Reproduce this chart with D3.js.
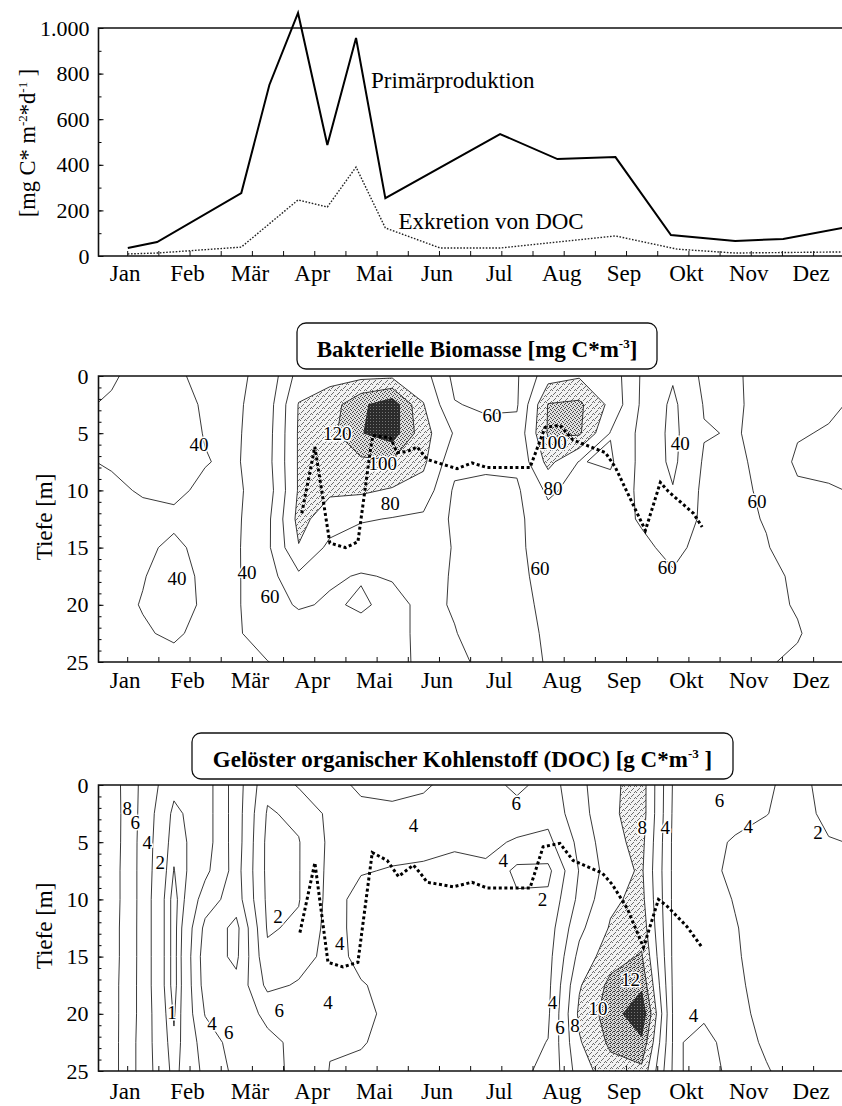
<!DOCTYPE html>
<html>
<head>
<meta charset="utf-8">
<script src="https://cdn.jsdelivr.net/npm/d3@7.9.0/dist/d3.min.js"></script>
<style>
  html, body { margin: 0; padding: 0; background: #fff; }
  svg { display: block; font-family: "Liberation Serif", "Times New Roman", serif; }
</style>
</head>
<body>
<svg id="chart" width="842" height="1106"></svg>
<script>
// ---- data ----
const monthNames = ['Jan', 'Feb', 'Mär', 'Apr', 'Mai', 'Jun', 'Jul', 'Aug', 'Sep', 'Okt', 'Nov', 'Dez'];

// primary production and DOC excretion, mg C m-2 d-1 (x in months from 1 Jan)
const ppMonths = [0.51, 0.98, 2.33, 2.78, 3.24, 3.71, 4.17, 4.64, 6.48, 7.40, 8.33, 9.22, 10.25, 11.02, 12.0];
const ppValues = [35, 61, 276, 750, 1066, 487, 956, 254, 535, 425, 434, 92, 66, 75, 125];
const excMonths = [0.51, 0.98, 2.33, 3.24, 3.71, 4.17, 4.64, 5.52, 6.48, 8.33, 9.32, 10.25, 12.0];
const excValues = [9, 13, 39, 246, 215, 390, 123, 35, 35, 88, 30, 13, 18];

const topTicks = [0, 200, 400, 600, 800, 1000];
const depthTicks = [0, 5, 10, 15, 20, 25];

// depth profiles: one column per half month (centred at 0.25, 0.75, ... months),
// values at 0, 2.5, 5 ... 25 m
const profileDepths = [0, 2.5, 5, 7.5, 10, 12.5, 15, 17.5, 20, 22.5, 25];

const bioProfiles = [
  [39, 41, 41, 41, 38, 37, 37, 37, 37, 37, 37],
  [43, 44, 44, 44, 41, 37, 38, 39.5, 40.5, 39, 37],
  [42, 45, 45, 44, 42, 38, 42, 44, 44, 41.5, 37],
  [37, 38.5, 39.5, 40.5, 38, 37, 37, 38, 38.5, 37, 37],
  [37, 37, 37.5, 38, 37, 37, 37.5, 38, 38, 37.5, 37],
  [45, 50, 52, 53, 50, 55, 56, 52, 52, 50, 39.5],
  [88, 101, 102, 102, 102, 106, 99, 76, 62, 50, 48],
  [94, 110, 114, 112, 103, 90, 75, 62, 58, 52, 49],
  [95, 136, 139, 116, 103, 82, 68, 59, 62, 55, 52],
  [96, 152, 150, 118, 98, 79, 68, 61, 56, 56, 57],
  [88, 101, 108, 104, 92, 76, 68, 66, 63, 63, 62],
  [55, 61, 78, 66, 57, 56, 59, 58.5, 59, 60.5, 63],
  [52, 57, 66, 64, 55, 52, 52, 52, 53, 55, 57],
  [58, 58, 66, 64, 57, 56, 56, 56, 55, 55, 55],
  [92, 121, 122, 106, 84, 72, 70, 66, 64, 62, 61],
  [98, 124, 123, 79, 72, 70, 68, 67, 66, 64, 62],
  [92, 95, 79, 83, 72, 68, 66, 64, 64, 63, 62],
  [58, 57, 55, 54, 56, 58, 64, 66, 65, 64, 63],
  [42, 36, 35, 36, 41, 46, 55, 62, 64, 64, 63],
  [64, 61, 59, 62, 64, 64, 66, 66, 65, 64, 63],
  [62, 62, 61, 62, 64, 64, 66, 66, 66, 65, 64],
  [54, 55, 56, 57, 57, 59, 61, 63, 63, 62, 61],
  [50, 48, 42, 36, 44, 50, 52, 58, 59, 61, 58],
  [50, 44, 38, 37, 41, 46, 50, 52, 54, 54, 55]
];
const bioLevels = [40, 60, 80, 100, 120, 140];
const bioLabels = [
  { m: 1.65, d: 6.0, t: '40' }, { m: 1.30, d: 17.7, t: '40' }, { m: 2.42, d: 17.2, t: '40' },
  { m: 2.79, d: 19.3, t: '60' }, { m: 3.87, d: 5.0, t: '120' }, { m: 4.60, d: 7.6, t: '100' },
  { m: 4.72, d: 11.1, t: '80' }, { m: 6.35, d: 3.4, t: '60' }, { m: 7.32, d: 5.8, t: '100' },
  { m: 7.33, d: 9.8, t: '80' }, { m: 9.37, d: 5.9, t: '40' }, { m: 7.12, d: 16.8, t: '60' },
  { m: 9.16, d: 16.7, t: '60' }, { m: 10.60, d: 11.0, t: '60' }
];
const bioLineMonths = [3.30, 3.51, 3.75, 4.00, 4.20, 4.40, 4.44, 4.72, 4.83, 4.99, 5.15, 5.31, 5.79, 6.03, 6.27, 6.96, 7.20, 7.44, 7.65, 8.17, 8.33, 8.81, 9.05, 9.18, 9.58, 9.72];
const bioLineDepths = [12.0, 6.2, 14.6, 15.0, 14.5, 6.5, 5.2, 5.4, 6.7, 6.6, 6.2, 7.3, 8.1, 7.6, 8.0, 8.0, 4.5, 4.3, 5.6, 6.7, 8.0, 13.5, 9.3, 10.1, 12.0, 13.2];

const docProfiles = [
  [9.0, 9.1, 9.1, 9.0, 9.0, 8.9, 8.9, 8.8, 8.8, 8.8, 8.8],
  [5.5, 5.4, 5.3, 5.3, 5.3, 5.3, 5.3, 5.3, 5.3, 5.2, 5.2],
  [2.5, 1.6, 1.3, 0.95, 0.5, 0.5, 0.5, 0.5, 0.85, 1.2, 1.5],
  [3.0, 3.0, 3.0, 3.5, 5.0, 6.5, 7.0, 6.8, 6.1, 5.0, 4.5],
  [7.0, 7.0, 7.0, 6.8, 7.0, 8.6, 8.4, 7.5, 7.0, 6.8, 6.5],
  [2.5, 1.8, 1.5, 1.5, 1.6, 1.8, 2.4, 3.5, 5.6, 6.4, 6.6],
  [4.2, 2.4, 1.9, 1.9, 1.9, 2.3, 3.2, 4.2, 5.0, 5.6, 5.5],
  [4.4, 4.5, 4.4, 4.5, 4.6, 4.7, 4.6, 4.5, 4.3, 4.1, 3.95],
  [3.8, 4.3, 4.6, 4.1, 3.5, 3.4, 3.6, 4.1, 4.3, 4.1, 3.7],
  [3.6, 4.3, 4.5, 3.9, 3.3, 3.2, 3.3, 3.6, 3.7, 3.6, 3.5],
  [3.8, 4.5, 4.4, 3.8, 3.2, 3.1, 3.1, 3.2, 3.3, 3.3, 3.3],
  [4.5, 4.7, 4.2, 3.6, 3.2, 3.1, 3.1, 3.1, 3.2, 3.2, 3.3],
  [5.0, 4.8, 4.4, 3.7, 3.0, 2.9, 2.9, 3.0, 3.0, 3.1, 3.2],
  [6.6, 5.0, 3.8, 1.5, 2.3, 2.6, 2.9, 3.0, 3.2, 3.4, 3.8],
  [5.0, 4.6, 3.5, 1.5, 2.4, 3.0, 3.3, 3.5, 3.7, 4.05, 4.2],
  [7.5, 7.2, 6.5, 6.1, 6.5, 7.5, 8.6, 9.8, 10.4, 9.8, 9.0],
  [9.5, 9.6, 9.4, 9.0, 9.6, 10.2, 11.2, 12.5, 13.0, 12.4, 11.2],
  [11.0, 11.0, 10.6, 10.3, 10.6, 11.2, 12.2, 13.6, 15.5, 13.6, 11.5],
  [3.9, 3.8, 3.7, 3.7, 3.7, 3.7, 3.7, 3.8, 3.9, 3.9, 3.8],
  [3.7, 3.6, 3.7, 3.6, 3.6, 3.6, 3.6, 3.7, 3.9, 4.2, 4.4],
  [3.6, 3.7, 4.1, 4.3, 4.05, 3.95, 3.9, 3.85, 3.8, 3.7, 3.7],
  [3.8, 3.95, 4.6, 4.6, 4.5, 4.4, 4.4, 4.3, 4.2, 4.1, 3.95],
  [4.5, 4.6, 4.6, 4.5, 4.5, 4.5, 4.5, 4.4, 4.4, 4.3, 4.3],
  [3.4, 3.6, 4.1, 4.4, 4.5, 4.5, 4.5, 4.4, 4.4, 4.4, 4.4]
];
const docLevels = [1, 2, 4, 6, 8, 10, 12, 14];
const docLabels = [
  { m: 0.50, d: 2.0, t: '8' }, { m: 0.63, d: 3.3, t: '6' }, { m: 0.82, d: 5.0, t: '4' },
  { m: 1.03, d: 6.8, t: '2' }, { m: 1.22, d: 19.9, t: '1' }, { m: 1.86, d: 20.8, t: '4' },
  { m: 2.13, d: 21.6, t: '6' }, { m: 2.92, d: 11.5, t: '2' }, { m: 2.94, d: 19.7, t: '6' },
  { m: 3.91, d: 13.8, t: '4' }, { m: 3.72, d: 19.0, t: '4' }, { m: 5.09, d: 3.5, t: '4' },
  { m: 6.74, d: 1.6, t: '6' }, { m: 6.53, d: 6.6, t: '4' }, { m: 7.16, d: 10.0, t: '2' },
  { m: 7.32, d: 19.0, t: '4' }, { m: 7.44, d: 21.2, t: '6' }, { m: 7.68, d: 21.0, t: '8' },
  { m: 8.05, d: 19.5, t: '10' }, { m: 8.57, d: 17.0, t: '12' }, { m: 8.76, d: 3.7, t: '8' },
  { m: 9.13, d: 3.7, t: '4' }, { m: 10.0, d: 1.3, t: '6' }, { m: 10.46, d: 3.6, t: '4' },
  { m: 11.58, d: 4.1, t: '2' }, { m: 9.58, d: 20.1, t: '4' }
];
const docLineMonths = [3.27, 3.51, 3.72, 3.96, 4.20, 4.43, 4.67, 4.85, 5.09, 5.20, 5.31, 5.73, 6.03, 6.27, 6.96, 7.17, 7.44, 7.65, 8.12, 8.28, 8.52, 8.78, 9.02, 9.16, 9.48, 9.72];
const docLineDepths = [12.9, 6.8, 15.5, 15.9, 15.5, 5.9, 6.6, 8.0, 7.0, 7.7, 8.5, 8.9, 8.5, 9.0, 9.0, 5.4, 5.1, 6.6, 7.7, 8.7, 10.8, 14.2, 10.0, 10.6, 12.4, 14.2];

// ---- layout ----
const svg = d3.select('#chart');
const plotLeft = 98.5;
const plotRight = 844;
const x = d3.scaleLinear().domain([0, 12]).range([96, 844.3]);
const yTop = d3.scaleLinear().domain([0, 1000]).range([256, 28]);
const yBio = d3.scaleLinear().domain([0, 25]).range([376, 662]);
const yDoc = d3.scaleLinear().domain([0, 25]).range([785, 1071]);

const halfMonths = d3.range(1, 24).map((i) => i / 2);
const nCols = bioProfiles.length;
const nRows = profileDepths.length;

// stipple patterns
const defs = svg.append('defs');
function addStipple(id, size, bg, dotColor, dots) {
  const p = defs.append('pattern')
    .attr('id', id)
    .attr('width', size)
    .attr('height', size)
    .attr('patternUnits', 'userSpaceOnUse');
  p.append('rect').attr('width', size).attr('height', size).attr('fill', bg);
  dots.forEach(([dx, dy]) => {
    p.append('rect').attr('x', dx).attr('y', dy).attr('width', 1).attr('height', 1).attr('fill', dotColor);
  });
}
addStipple('st1', 6, '#f2f2f2', '#6a6a6a', [[0, 0], [3, 2], [1, 4], [5, 5], [4, 0], [2, 3]]);
addStipple('st2', 4, '#dedede', '#444', [[0, 0], [2, 1], [1, 3], [3, 2]]);
addStipple('st3', 4, '#d6d6d6', '#3a3a3a', [[0, 0], [2, 1], [1, 3], [3, 2], [2, 3]]);
addStipple('st4', 3, '#2b2b2b', '#777', [[1, 1]]);

function bottomTicks(g, y0) {
  g.append('g')
    .attr('transform', `translate(0,${y0})`)
    .call(d3.axisBottom(x).tickValues(halfMonths).tickSize(-5).tickFormat(''))
    .call((a) => a.select('.domain').remove())
    .selectAll('line').attr('stroke', '#111').attr('stroke-width', 1);
}

function monthLabels(g, yBase) {
  g.append('g')
    .selectAll('text')
    .data(monthNames)
    .join('text')
    .attr('x', (d, i) => x(i + 0.5) - 2)
    .attr('y', yBase)
    .attr('text-anchor', 'middle')
    .attr('font-size', 23)
    .text((d) => d);
}

function frame(g, yTopPx, yBotPx) {
  g.append('path')
    .attr('d', `M${plotRight},${yTopPx}H${plotLeft}V${yBotPx}H${plotRight}`)
    .attr('fill', 'none')
    .attr('stroke', '#111')
    .attr('stroke-width', 1.6);
}

// ---- top panel ----
const topPanel = svg.append('g');

topPanel.append('g')
  .attr('transform', `translate(${plotLeft},0)`)
  .call(d3.axisLeft(yTop).tickValues(d3.range(0, 1001, 100)).tickSize(-3).tickFormat(''))
  .call((a) => a.select('.domain').remove());
topPanel.append('g')
  .attr('transform', `translate(${plotLeft},0)`)
  .call(d3.axisLeft(yTop).tickValues(topTicks).tickSize(-5).tickPadding(9)
    .tickFormat((d) => (d === 1000 ? '1.000' : d)))
  .call((a) => a.select('.domain').remove())
  .call((a) => a.selectAll('text').attr('font-size', 22).attr('font-family', 'Liberation Serif').attr('fill', '#000'));

bottomTicks(topPanel, 256);
frame(topPanel, 28, 256);
monthLabels(topPanel, 281);

const ppLine = d3.line().x((d, i) => x(ppMonths[i])).y((d) => yTop(d));
topPanel.append('path')
  .attr('d', ppLine(ppValues))
  .attr('fill', 'none')
  .attr('stroke', '#000')
  .attr('stroke-width', 2)
  .attr('stroke-linejoin', 'miter');

const excLine = d3.line().x((d, i) => x(excMonths[i])).y((d) => yTop(d));
topPanel.append('path')
  .attr('d', excLine(excValues))
  .attr('fill', 'none')
  .attr('stroke', '#222')
  .attr('stroke-width', 1.4)
  .attr('stroke-dasharray', '1.6 1.6');

const topNotes = [
  { m: 4.41, v: 737, t: 'Primärproduktion' },
  { m: 4.85, v: 118, t: 'Exkretion von DOC' }
];
topPanel.selectAll('text.note')
  .data(topNotes)
  .join('text')
  .attr('class', 'note')
  .attr('x', (d) => x(d.m))
  .attr('y', (d) => yTop(d.v))
  .attr('font-size', 23)
  .text((d) => d.t);

const yTitle = topPanel.append('text')
  .attr('transform', 'translate(35,143) rotate(-90)')
  .attr('text-anchor', 'middle')
  .attr('font-size', 22.5);
yTitle.append('tspan').text('[mg C* m');
yTitle.append('tspan').attr('dy', -8).attr('font-size', 13).text('-2');
yTitle.append('tspan').attr('dy', 8).text('*d');
yTitle.append('tspan').attr('dy', -8).attr('font-size', 13).text('-1');
yTitle.append('tspan').attr('dy', 8).text(' ]');

// ---- contour panels ----
function titleBox(cx, yBox, w, parts) {
  const g = svg.append('g');
  g.append('rect')
    .attr('x', cx - w / 2)
    .attr('y', yBox)
    .attr('width', w)
    .attr('height', 46)
    .attr('rx', 9)
    .attr('fill', '#fff')
    .attr('stroke', '#111')
    .attr('stroke-width', 1.3);
  const t = g.append('text')
    .attr('x', cx)
    .attr('y', yBox + 34)
    .attr('text-anchor', 'middle')
    .attr('font-size', 23)
    .attr('font-weight', 'bold');
  t.append('tspan').text(parts[0]);
  t.append('tspan').attr('dy', -9).attr('font-size', 13).text('-3');
  t.append('tspan').attr('dy', 9).text(parts[1]);
}

function contourPanel(cfg) {
  const { profiles, levels, fills, yScale, labels, lineMonths, lineDepths, clipId, tiefeY } = cfg;
  const [y0, y1] = yScale.range();
  const g = svg.append('g');

  g.append('clipPath').attr('id', clipId)
    .append('rect')
    .attr('x', plotLeft)
    .attr('y', y0)
    .attr('width', plotRight - plotLeft)
    .attr('height', y1 - y0);

  const values = [];
  for (let r = 0; r < nRows; r++) {
    for (let j = 0; j < nCols; j++) values.push(profiles[j][r]);
  }
  const rowStep = profileDepths[1] - profileDepths[0];
  const proj = d3.geoTransform({
    point(gx, gy) {
      this.stream.point(x(gx * 0.5), yScale((gy - 0.5) * rowStep));
    }
  });
  const path = d3.geoPath(proj);
  const body = g.append('g').attr('clip-path', `url(#${clipId})`);

  fills.forEach(([level, pat]) => {
    const c = d3.contours().size([nCols, nRows]).thresholds([level])(values);
    body.append('path').attr('d', path(c[0])).attr('fill', `url(#${pat})`).attr('stroke', 'none');
  });

  const lines = d3.contours().size([nCols, nRows]).thresholds(levels)(values);
  body.selectAll('path.iso')
    .data(lines)
    .join('path')
    .attr('class', 'iso')
    .attr('d', path)
    .attr('fill', 'none')
    .attr('stroke', '#222')
    .attr('stroke-width', 0.9);

  body.selectAll('text.lab')
    .data(labels)
    .join('text')
    .attr('class', 'lab')
    .attr('x', (d) => x(d.m))
    .attr('y', (d) => yScale(d.d))
    .attr('dy', '0.35em')
    .attr('text-anchor', 'middle')
    .attr('font-size', 19)
    .attr('stroke', '#fff')
    .attr('stroke-width', 3)
    .attr('paint-order', 'stroke')
    .text((d) => d.t);

  const mixLine = d3.line().x((d) => x(d)).y((d, i) => yScale(lineDepths[i]));
  body.append('path')
    .attr('d', mixLine(lineMonths))
    .attr('fill', 'none')
    .attr('stroke', '#000')
    .attr('stroke-width', 3)
    .attr('stroke-dasharray', '3 2.6');

  // depth axis
  g.append('g')
    .attr('transform', `translate(${plotLeft},0)`)
    .call(d3.axisLeft(yScale).tickValues(d3.range(0, 26)).tickSize(-3).tickFormat(''))
    .call((a) => a.select('.domain').remove());
  g.append('g')
    .attr('transform', `translate(${plotLeft},0)`)
    .call(d3.axisLeft(yScale).tickValues(depthTicks).tickSize(-5).tickPadding(10))
    .call((a) => a.select('.domain').remove())
    .call((a) => a.selectAll('text').attr('font-size', 22).attr('font-family', 'Liberation Serif').attr('fill', '#000'));

  bottomTicks(g, y1);
  frame(g, y0, y1);

  g.append('text')
    .attr('transform', `translate(52,${tiefeY}) rotate(-90)`)
    .attr('text-anchor', 'middle')
    .attr('font-size', 23)
    .text('Tiefe [m]');
}

titleBox(477, 323, 360, ['Bakterielle Biomasse [mg C*m', ']']);
contourPanel({
  profiles: bioProfiles,
  levels: bioLevels,
  fills: [[100, 'st1'], [120, 'st2'], [140, 'st4']],
  yScale: yBio,
  labels: bioLabels,
  lineMonths: bioLineMonths,
  lineDepths: bioLineDepths,
  clipId: 'clipBio',
  tiefeY: 517
});
monthLabels(svg, 688);

titleBox(462.5, 733, 541, ['Gelöster organischer Kohlenstoff (DOC) [g C*m', ' ]']);
contourPanel({
  profiles: docProfiles,
  levels: docLevels,
  fills: [[10, 'st1'], [12, 'st3'], [14, 'st4']],
  yScale: yDoc,
  labels: docLabels,
  lineMonths: docLineMonths,
  lineDepths: docLineDepths,
  clipId: 'clipDoc',
  tiefeY: 926
});
monthLabels(svg, 1099);
</script>
</body>
</html>
